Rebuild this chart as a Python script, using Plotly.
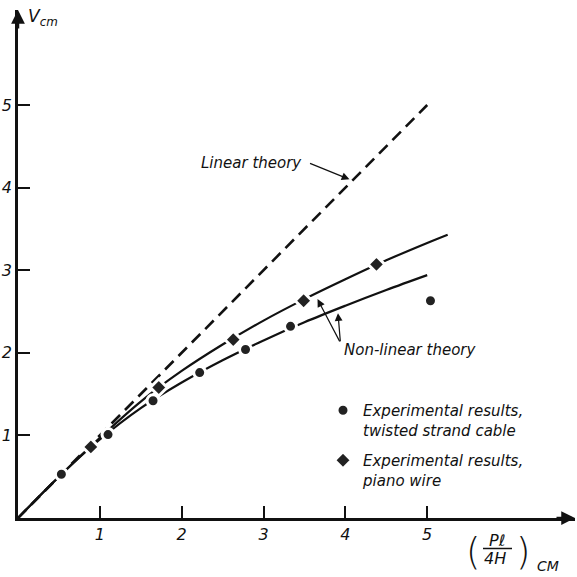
import plotly.graph_objects as go

# ---- data ----
linear_x = [0, 5]
linear_y = [0, 5]

upper_x = [0, 0.5, 1.0, 1.5, 2.0, 2.5, 3.0, 3.5, 4.0, 4.5, 5.0, 5.25]
upper_y = [0, 0.5, 0.97, 1.41, 1.78, 2.10, 2.39, 2.65, 2.89, 3.12, 3.33, 3.43]

lower_x = [0, 0.5, 1.0, 1.5, 2.0, 2.5, 3.0, 3.5, 4.0, 4.5, 5.0]
lower_y = [0, 0.5, 0.95, 1.33, 1.64, 1.91, 2.15, 2.37, 2.57, 2.76, 2.94]

cable_x = [0.53, 1.10, 1.65, 2.22, 2.78, 3.33, 5.04]
cable_y = [0.53, 1.01, 1.42, 1.76, 2.04, 2.32, 2.63]

piano_x = [0.89, 1.72, 2.63, 3.49, 4.38]
piano_y = [0.86, 1.58, 2.16, 2.63, 3.07]

tick_vals = [1, 2, 3, 4, 5]
tick_text = ["1", "2", "3", "4", "5"]

# ---- layout geometry ----
W = H = 577
ML, MR, MT, MB = 18, 2, 10, 59
PW = W - ML - MR
PH = H - MT - MB
PX_PER_X = 81.84
PX_PER_Y = 82.6
XMAX = PW / PX_PER_X
YMAX = PH / PX_PER_Y


def px(xp):
    return (xp - ML) / PW


def py(yp):
    return (H - MB - yp) / PH


FONT = "DejaVu Sans"
INK = "#111111"

fig = go.Figure()

fig.add_trace(go.Scatter(x=linear_x, y=linear_y, mode="lines",
                         line=dict(color=INK, width=2.6, dash="12px,7px"),
                         showlegend=False, hoverinfo="skip"))
fig.add_trace(go.Scatter(x=upper_x, y=upper_y, mode="lines",
                         line=dict(color=INK, width=2.2, shape="spline"),
                         showlegend=False, hoverinfo="skip"))
fig.add_trace(go.Scatter(x=lower_x, y=lower_y, mode="lines",
                         line=dict(color=INK, width=2.2, shape="spline"),
                         showlegend=False, hoverinfo="skip"))

fig.add_trace(go.Scatter(
    x=cable_x, y=cable_y, mode="markers",
    name="Experimental results,<br>twisted strand cable",
    legendgroup="a",
    marker=dict(symbol="circle", size=12, color="#222222",
                line=dict(color="white", width=3))))
fig.add_trace(go.Scatter(
    x=piano_x, y=piano_y, mode="markers",
    name="Experimental results,<br>piano wire",
    legendgroup="b",
    marker=dict(symbol="diamond", size=13, color="#222222",
                line=dict(color="white", width=3))))

ann = []
tfont = dict(family=FONT, size=15, style="italic", color=INK)

# Linear theory label and arrow
ann.append(dict(xref="paper", yref="paper", x=px(304), y=py(163), text="Linear theory",
                showarrow=False, xanchor="right", yanchor="middle", font=tfont))
ann.append(dict(x=4.05, y=4.1, xref="x", yref="y", ax=3.55, ay=4.30, axref="x", ayref="y",
                text="", showarrow=True, arrowhead=2, arrowsize=1.3, arrowwidth=1.2,
                arrowcolor=INK))

# Non-linear theory label and arrows
ann.append(dict(xref="paper", yref="paper", x=px(342), y=py(350), text="Non-linear theory",
                showarrow=False, xanchor="left", yanchor="middle", font=tfont))
for hx, hy in [(3.66, 2.65), (3.91, 2.48)]:
    ann.append(dict(x=hx, y=hy, xref="x", yref="y", ax=3.94, ay=2.12, axref="x", ayref="y",
                    text="", showarrow=True, arrowhead=2, arrowsize=1.3, arrowwidth=1.2,
                    arrowcolor=INK))

# Axis arrowheads
ann.append(dict(xref="paper", yref="paper", x=0, y=1, ax=0, ay=20, text="",
                showarrow=True, arrowhead=2, arrowsize=1.1, arrowwidth=2.5, arrowcolor=INK))
ann.append(dict(xref="paper", yref="paper", x=1, y=0, ax=-20, ay=0, text="",
                showarrow=True, arrowhead=2, arrowsize=1.1, arrowwidth=2.5, arrowcolor=INK))

# Y axis title
ann.append(dict(xref="paper", yref="paper", x=px(26), y=py(18), text="V<sub>cm</sub>",
                showarrow=False, xanchor="left", yanchor="middle",
                font=dict(family=FONT, size=17, style="italic", color=INK)))

# X axis title: (Pl / 4H)_CM
ann.append(dict(xref="paper", yref="paper", x=px(473), y=py(552), text="(",
                showarrow=False, xanchor="center", yanchor="middle",
                font=dict(family=FONT, size=37, weight=200, color=INK)))
ann.append(dict(xref="paper", yref="paper", x=px(523), y=py(552), text=")",
                showarrow=False, xanchor="center", yanchor="middle",
                font=dict(family=FONT, size=37, weight=200, color=INK)))
ann.append(dict(xref="paper", yref="paper", x=px(497), y=py(540), text="Pℓ",
                showarrow=False, xanchor="center", yanchor="middle",
                font=dict(family=FONT, size=16, style="italic", color=INK)))
ann.append(dict(xref="paper", yref="paper", x=px(495), y=py(558), text="4H",
                showarrow=False, xanchor="center", yanchor="middle",
                font=dict(family=FONT, size=16, style="italic", color=INK)))
ann.append(dict(xref="paper", yref="paper", x=px(535), y=py(566), text="CM",
                showarrow=False, xanchor="left", yanchor="middle",
                font=dict(family=FONT, size=14, style="italic", color=INK)))

shapes = [dict(type="line", xref="paper", yref="paper",
               x0=px(483), x1=px(512), y0=py(548.5), y1=py(548.5),
               line=dict(color=INK, width=1.5))]

axis_common = dict(showgrid=False, zeroline=False, showline=True, linecolor=INK,
                   linewidth=2.5, ticks="inside", ticklen=12, tickwidth=2,
                   tickcolor=INK, tickvals=tick_vals, ticktext=tick_text,
                   tickfont=dict(family=FONT, size=16, style="italic", color=INK),
                   fixedrange=True, automargin=False)

fig.update_layout(
    width=W, height=H,
    margin=dict(l=ML, r=MR, t=MT, b=MB, autoexpand=False),
    plot_bgcolor="white", paper_bgcolor="white",
    xaxis=dict(range=[0, XMAX], **axis_common),
    yaxis=dict(range=[0, YMAX], **axis_common),
    showlegend=True,
    legend=dict(x=px(323), y=py(394), xanchor="left", yanchor="top",
                bgcolor="rgba(0,0,0,0)", valign="top", tracegroupgap=8,
                traceorder="grouped",
                font=dict(family=FONT, size=15, style="italic", color=INK)),
    annotations=ann,
    shapes=shapes,
)

fig.write_html(
    "out.html",
    config={"displayModeBar": False, "staticPlot": False},
    post_script="document.body.style.margin='0';document.body.style.padding='0';"
                "document.body.style.overflow='hidden';",
)
